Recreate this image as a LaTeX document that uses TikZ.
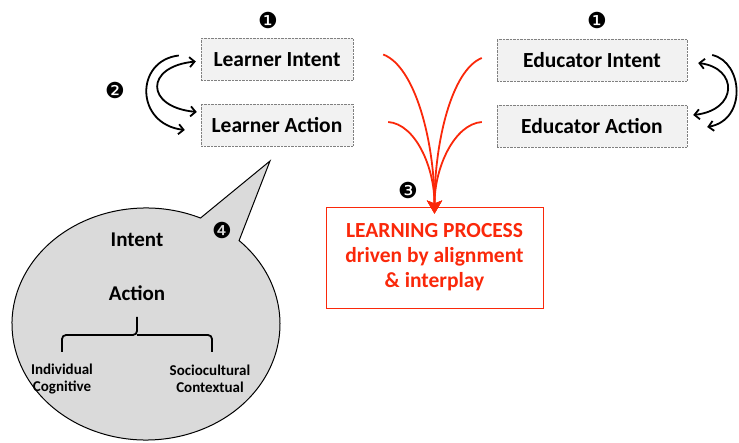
\documentclass[tikz,border=0pt]{standalone}
\usepackage{fontspec}
\setmainfont{Carlito}
\newfontfamily\dingfont{DejaVu Sans}
\usetikzlibrary{arrows.meta}

\definecolor{procred}{RGB}{250,40,10}
\definecolor{bubblegray}{RGB}{218,218,218}
\definecolor{agentgray}{RGB}{242,242,242}

\begin{document}
\begin{tikzpicture}[x=1pt, y=1pt,
    agent/.style={rectangle, draw=gray, densely dotted, fill=agentgray, minimum height=42pt, text centered, font=\fontsize{21.5}{25}\selectfont\bfseries},
    procbox/.style={rectangle, draw=procred, line width=0.8pt, minimum width=217pt, minimum height=101pt, align=center, text=procred, font=\fontsize{21.5}{25}\selectfont\bfseries},
    turn/.style={-{Straight Barb[length=5pt, width=10pt]}, line width=1.8pt},
    turnboth/.style={{Straight Barb[length=5pt, width=10pt]}-{Straight Barb[length=5pt, width=10pt]}, line width=1.8pt},
    feed/.style={-{Stealth[length=13pt, width=15pt, inset=3pt]}, procred, line width=1.8pt},
    num/.style={font=\dingfont\fontsize{22}{22}\selectfont},
    bubble/.style={draw, line width=1pt, fill=bubblegray},
    bubtxt/.style={font=\fontsize{21}{24}\selectfont\bfseries},
    subtxt/.style={align=center, font=\fontsize{15}{17}\selectfont\bfseries},
    brace/.style={line width=1.8pt, rounded corners=4pt}
]
\useasboundingbox (0,0) rectangle (739,442);

% Learner side
\node[agent, minimum width=152pt] (lint) at (277,382.5) {Learner Intent};
\node[agent, minimum width=152pt] (lact) at (277,317) {Learner Action};
\node[num] (n1l) at (268,422) {❶};
\node[num] (n2) at (115,352) {❷};

% Educator side
\node[agent, minimum width=190pt] (eint) at (592,382) {Educator Intent};
\node[agent, minimum width=190pt] (eact) at (592,316) {Educator Action};
\node[num] (n1e) at (597,422) {❶};

% Intent/action loops
\draw[turn] ([shift={(-22,4)}]lint.west) .. controls +(-44,-5) and +(-50,6) .. ([shift={(-16,-5)}]lact.west);
\draw[turnboth] ([shift={(-5,-2)}]lint.west) .. controls +(-51,-5) and +(-52,5) .. ([shift={(-4,13)}]lact.west);
\draw[turn] ([shift={(25,5)}]eint.east) .. controls +(31,-7) and +(40,7) .. ([shift={(20,-1)}]eact.east);
\draw[turnboth] ([shift={(11,-3)}]eint.east) .. controls +(40,-5) and +(45,5) .. ([shift={(6,11)}]eact.east);

% Learning process
\node[procbox] (proc) at (434.5,184.5) {LEARNING PROCESS\\driven by alignment\\\& interplay};
\coordinate (pin) at ([yshift=-7]proc.north);
\coordinate (fl1) at ([shift={(30,5)}]lint.east);
\coordinate (fl2) at ([shift={(35,3)}]lact.east);
\coordinate (fe1) at ([shift={(-15,2)}]eint.west);
\coordinate (fe2) at ([shift={(-15,4)}]eact.west);
\node[num] (n3) at (408,252) {❸};

\draw[feed] (fl1) .. controls +(32,-12) and +(0,72) .. (pin);
\draw[feed] (fl2) .. controls +(27,-2) and +(0,47) .. (pin);
\draw[feed] (fe1) .. controls +(-30,-12) and +(0,72) .. (pin);
\draw[feed] (fe2) .. controls +(-27,-2) and +(0,47) .. (pin);

% Thought bubble
\coordinate (bubc) at (146,118);
\coordinate (tip) at (270,281);
\path (bubc) +(46:134pt and 116pt) coordinate (bR) +(66:134pt and 116pt) coordinate (bL);
\draw[bubble] (bR) -- (tip) -- (bL) arc[start angle=66, end angle=406, x radius=134pt, y radius=116pt] -- cycle;
\node[num] (n4) at (222,212) {❹};

\node[bubtxt] (bint) at (137,202) {Intent};
\node[bubtxt] (bact) at (137,149) {Action};
\draw[brace] (62,90) -- (62,107) -- (137,107) -- (137,125);
\draw[brace] (137,107) -- (212,107) -- (212,90);
\node[subtxt] (indiv) at (62,63) {Individual\\Cognitive};
\node[subtxt] (socio) at (210,63) {Sociocultural\\Contextual};

\end{tikzpicture}
\end{document}
